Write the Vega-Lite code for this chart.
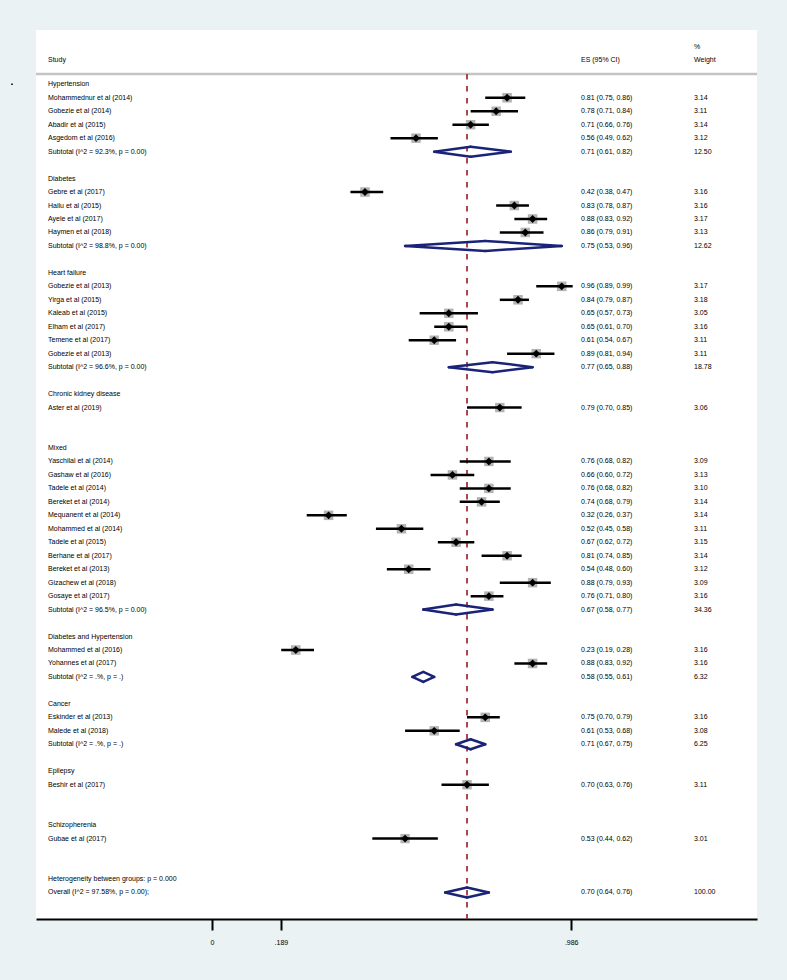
{
  "$schema": "https://vega.github.io/schema/vega-lite/v6.json",
  "width": 721,
  "height": 889,
  "autosize": "none",
  "padding": {"left": 36, "top": 30, "right": 30, "bottom": 61},
  "background": "#eaf2f3",
  "config": {
    "view": {"fill": "white", "stroke": null},
    "font": "Liberation Sans",
    "text": {"font": "Liberation Sans", "fontSize": 7, "color": "black", "baseline": "middle", "align": "left"},
    "axisX": {"grid": false, "domainColor": "black", "domainWidth": 2, "tickColor": "black", "tickWidth": 2, "tickSize": 11, "labelFontSize": 7, "labelColor": "black", "labelPadding": 8, "labelFont": "Liberation Sans", "labelFlush": false, "labelOverlap": false}
  },
  "datasets": {
    "rows": [
      {"row": 0, "label": "Hypertension", "type": "group"},
      {"row": 1, "label": "Mohammednur et al (2014)", "type": "study", "es": 0.81, "lo": 0.75, "hi": 0.86, "w": 3.14, "estext": "0.81 (0.75, 0.86)", "wtext": "3.14"},
      {"row": 2, "label": "Gobezie et al (2014)", "type": "study", "es": 0.78, "lo": 0.71, "hi": 0.84, "w": 3.11, "estext": "0.78 (0.71, 0.84)", "wtext": "3.11"},
      {"row": 3, "label": "Abadir et al (2015)", "type": "study", "es": 0.71, "lo": 0.66, "hi": 0.76, "w": 3.14, "estext": "0.71 (0.66, 0.76)", "wtext": "3.14"},
      {"row": 4, "label": "Asgedom et al  (2016)", "type": "study", "es": 0.56, "lo": 0.49, "hi": 0.62, "w": 3.12, "estext": "0.56 (0.49, 0.62)", "wtext": "3.12"},
      {"row": 5, "label": "Subtotal  (I^2 = 92.3%, p = 0.00)", "type": "subtotal", "es": 0.71, "lo": 0.61, "hi": 0.82, "w": 12.5, "estext": "0.71 (0.61, 0.82)", "wtext": "12.50"},
      {"row": 7, "label": "Diabetes", "type": "group"},
      {"row": 8, "label": "Gebre et al (2017)", "type": "study", "es": 0.42, "lo": 0.38, "hi": 0.47, "w": 3.16, "estext": "0.42 (0.38, 0.47)", "wtext": "3.16"},
      {"row": 9, "label": "Hailu et al (2015)", "type": "study", "es": 0.83, "lo": 0.78, "hi": 0.87, "w": 3.16, "estext": "0.83 (0.78, 0.87)", "wtext": "3.16"},
      {"row": 10, "label": "Ayele et al (2017)", "type": "study", "es": 0.88, "lo": 0.83, "hi": 0.92, "w": 3.17, "estext": "0.88 (0.83, 0.92)", "wtext": "3.17"},
      {"row": 11, "label": "Haymen et al (2018)", "type": "study", "es": 0.86, "lo": 0.79, "hi": 0.91, "w": 3.13, "estext": "0.86 (0.79, 0.91)", "wtext": "3.13"},
      {"row": 12, "label": "Subtotal  (I^2 = 98.8%, p = 0.00)", "type": "subtotal", "es": 0.75, "lo": 0.53, "hi": 0.96, "w": 12.62, "estext": "0.75 (0.53, 0.96)", "wtext": "12.62"},
      {"row": 14, "label": "Heart failure", "type": "group"},
      {"row": 15, "label": "Gobezie et al (2013)", "type": "study", "es": 0.96, "lo": 0.89, "hi": 0.99, "w": 3.17, "estext": "0.96 (0.89, 0.99)", "wtext": "3.17"},
      {"row": 16, "label": "Yirga et al (2015)", "type": "study", "es": 0.84, "lo": 0.79, "hi": 0.87, "w": 3.18, "estext": "0.84 (0.79, 0.87)", "wtext": "3.18"},
      {"row": 17, "label": "Kaleab et al (2015)", "type": "study", "es": 0.65, "lo": 0.57, "hi": 0.73, "w": 3.05, "estext": "0.65 (0.57, 0.73)", "wtext": "3.05"},
      {"row": 18, "label": "Elham et al (2017)", "type": "study", "es": 0.65, "lo": 0.61, "hi": 0.70, "w": 3.16, "estext": "0.65 (0.61, 0.70)", "wtext": "3.16"},
      {"row": 19, "label": "Temene et al (2017)", "type": "study", "es": 0.61, "lo": 0.54, "hi": 0.67, "w": 3.11, "estext": "0.61 (0.54, 0.67)", "wtext": "3.11"},
      {"row": 20, "label": "Gobezie et al (2013)", "type": "study", "es": 0.89, "lo": 0.81, "hi": 0.94, "w": 3.11, "estext": "0.89 (0.81, 0.94)", "wtext": "3.11"},
      {"row": 21, "label": "Subtotal  (I^2 = 96.6%, p = 0.00)", "type": "subtotal", "es": 0.77, "lo": 0.65, "hi": 0.88, "w": 18.78, "estext": "0.77 (0.65, 0.88)", "wtext": "18.78"},
      {"row": 23, "label": "Chronic kidney disease", "type": "group"},
      {"row": 24, "label": "Aster et al (2019)", "type": "study", "es": 0.79, "lo": 0.70, "hi": 0.85, "w": 3.06, "estext": "0.79 (0.70, 0.85)", "wtext": "3.06"},
      {"row": 27, "label": "Mixed", "type": "group"},
      {"row": 28, "label": "Yaschilal et al (2014)", "type": "study", "es": 0.76, "lo": 0.68, "hi": 0.82, "w": 3.09, "estext": "0.76 (0.68, 0.82)", "wtext": "3.09"},
      {"row": 29, "label": "Gashaw et al (2016)", "type": "study", "es": 0.66, "lo": 0.60, "hi": 0.72, "w": 3.13, "estext": "0.66 (0.60, 0.72)", "wtext": "3.13"},
      {"row": 30, "label": "Tadele et al (2014)", "type": "study", "es": 0.76, "lo": 0.68, "hi": 0.82, "w": 3.10, "estext": "0.76 (0.68, 0.82)", "wtext": "3.10"},
      {"row": 31, "label": "Bereket et al (2014)", "type": "study", "es": 0.74, "lo": 0.68, "hi": 0.79, "w": 3.14, "estext": "0.74 (0.68, 0.79)", "wtext": "3.14"},
      {"row": 32, "label": "Mequanent et al (2014)", "type": "study", "es": 0.32, "lo": 0.26, "hi": 0.37, "w": 3.14, "estext": "0.32 (0.26, 0.37)", "wtext": "3.14"},
      {"row": 33, "label": "Mohammed et al (2014)", "type": "study", "es": 0.52, "lo": 0.45, "hi": 0.58, "w": 3.11, "estext": "0.52 (0.45, 0.58)", "wtext": "3.11"},
      {"row": 34, "label": "Tadele et al (2015)", "type": "study", "es": 0.67, "lo": 0.62, "hi": 0.72, "w": 3.15, "estext": "0.67 (0.62, 0.72)", "wtext": "3.15"},
      {"row": 35, "label": "Berhane et al (2017)", "type": "study", "es": 0.81, "lo": 0.74, "hi": 0.85, "w": 3.14, "estext": "0.81 (0.74, 0.85)", "wtext": "3.14"},
      {"row": 36, "label": "Bereket et al (2013)", "type": "study", "es": 0.54, "lo": 0.48, "hi": 0.60, "w": 3.12, "estext": "0.54 (0.48, 0.60)", "wtext": "3.12"},
      {"row": 37, "label": "Gizachew et al (2018)", "type": "study", "es": 0.88, "lo": 0.79, "hi": 0.93, "w": 3.09, "estext": "0.88 (0.79, 0.93)", "wtext": "3.09"},
      {"row": 38, "label": "Gosaye et al (2017)", "type": "study", "es": 0.76, "lo": 0.71, "hi": 0.80, "w": 3.16, "estext": "0.76 (0.71, 0.80)", "wtext": "3.16"},
      {"row": 39, "label": "Subtotal  (I^2 = 96.5%, p = 0.00)", "type": "subtotal", "es": 0.67, "lo": 0.58, "hi": 0.77, "w": 34.36, "estext": "0.67 (0.58, 0.77)", "wtext": "34.36"},
      {"row": 41, "label": "Diabetes and  Hypertension", "type": "group"},
      {"row": 42, "label": "Mohammed et al (2016)", "type": "study", "es": 0.23, "lo": 0.19, "hi": 0.28, "w": 3.16, "estext": "0.23 (0.19, 0.28)", "wtext": "3.16"},
      {"row": 43, "label": "Yohannes et al (2017)", "type": "study", "es": 0.88, "lo": 0.83, "hi": 0.92, "w": 3.16, "estext": "0.88 (0.83, 0.92)", "wtext": "3.16"},
      {"row": 44, "label": "Subtotal  (I^2 = .%, p = .)", "type": "subtotal", "es": 0.58, "lo": 0.55, "hi": 0.61, "w": 6.32, "estext": "0.58 (0.55, 0.61)", "wtext": "6.32"},
      {"row": 46, "label": "Cancer", "type": "group"},
      {"row": 47, "label": "Eskinder et al (2013)", "type": "study", "es": 0.75, "lo": 0.70, "hi": 0.79, "w": 3.16, "estext": "0.75 (0.70, 0.79)", "wtext": "3.16"},
      {"row": 48, "label": "Malede et al (2018)", "type": "study", "es": 0.61, "lo": 0.53, "hi": 0.68, "w": 3.08, "estext": "0.61 (0.53, 0.68)", "wtext": "3.08"},
      {"row": 49, "label": "Subtotal  (I^2 = .%, p = .)", "type": "subtotal", "es": 0.71, "lo": 0.67, "hi": 0.75, "w": 6.25, "estext": "0.71 (0.67, 0.75)", "wtext": "6.25"},
      {"row": 51, "label": "Epilepsy", "type": "group"},
      {"row": 52, "label": "Beshir et al (2017)", "type": "study", "es": 0.70, "lo": 0.63, "hi": 0.76, "w": 3.11, "estext": "0.70 (0.63, 0.76)", "wtext": "3.11"},
      {"row": 55, "label": "Schizopherenia", "type": "group"},
      {"row": 56, "label": "Gubae et al (2017)", "type": "study", "es": 0.53, "lo": 0.44, "hi": 0.62, "w": 3.01, "estext": "0.53 (0.44, 0.62)", "wtext": "3.01"},
      {"row": 59, "label": "Heterogeneity between groups: p = 0.000", "type": "het"},
      {"row": 60, "label": "Overall  (I^2 = 97.58%, p = 0.00);", "type": "overall", "es": 0.70, "lo": 0.64, "hi": 0.76, "w": 100, "estext": "0.70 (0.64, 0.76)", "wtext": "100.00"}
    ]
  },
  "data": {"name": "rows"},
  "layer": [
    {
      "data": {"values": [{}]},
      "mark": {"type": "rule", "color": "#c4c4c4", "strokeWidth": 2.5},
      "encoding": {
        "x": {"datum": -0.48312, "type": "quantitative", "scale": {"domain": [-0.48312, 1.49602], "nice": false, "zero": false}, "title": null,
          "axis": {"values": [0, 0.189, 0.986], "labelExpr": "datum.value === 0 ? '0' : slice(format(datum.value, '.3f'), 1)", "title": null}},
        "x2": {"datum": 1.49602},
        "y": {"datum": -0.77, "type": "quantitative", "scale": {"domain": [-4.031, 61.97], "nice": false, "zero": false, "reverse": true}, "axis": null}
      }
    },
    {
      "transform": [{"filter": "datum.type === 'overall'"}],
      "mark": {"type": "rule", "color": "#a3343f", "strokeWidth": 1.8, "strokeDash": [5.5, 6.5]},
      "encoding": {
        "x": {"field": "es", "type": "quantitative", "title": null},
        "y": {"datum": -0.77, "type": "quantitative", "axis": null},
        "y2": {"datum": 61.97}
      }
    },
    {
      "transform": [{"filter": "datum.type === 'study'"}],
      "mark": {"type": "point", "shape": "square", "filled": true, "color": "#b3b3b3", "opacity": 1},
      "encoding": {
        "x": {"field": "es", "type": "quantitative", "title": null},
        "y": {"field": "row", "type": "quantitative", "axis": null},
        "size": {"field": "w", "type": "quantitative", "scale": {"domain": [0, 3.2], "range": [0, 92]}, "legend": null}
      }
    },
    {
      "transform": [{"filter": "datum.type === 'study'"}],
      "mark": {"type": "rule", "color": "black", "strokeWidth": 2.5},
      "encoding": {
        "x": {"field": "lo", "type": "quantitative", "title": null},
        "x2": {"field": "hi"},
        "y": {"field": "row", "type": "quantitative", "axis": null}
      }
    },
    {
      "transform": [{"filter": "datum.type === 'study'"}],
      "mark": {"type": "point", "shape": "diamond", "filled": true, "color": "black", "size": 62, "opacity": 1},
      "encoding": {
        "x": {"field": "es", "type": "quantitative", "title": null},
        "y": {"field": "row", "type": "quantitative", "axis": null}
      }
    },
    {
      "transform": [{"filter": "datum.type === 'subtotal' || datum.type === 'overall'"}],
      "mark": {"type": "rule", "color": "#1b2378", "strokeWidth": 2.5, "strokeCap": "round", "y2Offset": -5},
      "encoding": {
        "x": {"field": "lo", "type": "quantitative", "title": null},
        "x2": {"field": "es"},
        "y": {"field": "row", "type": "quantitative", "axis": null},
        "y2": {"field": "row"}
      }
    },
    {
      "transform": [{"filter": "datum.type === 'subtotal' || datum.type === 'overall'"}],
      "mark": {"type": "rule", "color": "#1b2378", "strokeWidth": 2.5, "strokeCap": "round", "y2Offset": 5},
      "encoding": {
        "x": {"field": "lo", "type": "quantitative", "title": null},
        "x2": {"field": "es"},
        "y": {"field": "row", "type": "quantitative", "axis": null},
        "y2": {"field": "row"}
      }
    },
    {
      "transform": [{"filter": "datum.type === 'subtotal' || datum.type === 'overall'"}],
      "mark": {"type": "rule", "color": "#1b2378", "strokeWidth": 2.5, "strokeCap": "round", "yOffset": -5},
      "encoding": {
        "x": {"field": "es", "type": "quantitative", "title": null},
        "x2": {"field": "hi"},
        "y": {"field": "row", "type": "quantitative", "axis": null},
        "y2": {"field": "row"}
      }
    },
    {
      "transform": [{"filter": "datum.type === 'subtotal' || datum.type === 'overall'"}],
      "mark": {"type": "rule", "color": "#1b2378", "strokeWidth": 2.5, "strokeCap": "round", "yOffset": 5},
      "encoding": {
        "x": {"field": "es", "type": "quantitative", "title": null},
        "x2": {"field": "hi"},
        "y": {"field": "row", "type": "quantitative", "axis": null},
        "y2": {"field": "row"}
      }
    },
    {
      "mark": {"type": "text"},
      "encoding": {
        "x": {"datum": -0.4502, "type": "quantitative", "title": null},
        "y": {"field": "row", "type": "quantitative", "axis": null},
        "text": {"field": "label"}
      }
    },
    {
      "transform": [{"filter": "isValid(datum.estext)"}],
      "mark": {"type": "text"},
      "encoding": {
        "x": {"datum": 1.0129, "type": "quantitative", "title": null},
        "y": {"field": "row", "type": "quantitative", "axis": null},
        "text": {"field": "estext"}
      }
    },
    {
      "transform": [{"filter": "isValid(datum.wtext)"}],
      "mark": {"type": "text"},
      "encoding": {
        "x": {"datum": 1.3231, "type": "quantitative", "title": null},
        "y": {"field": "row", "type": "quantitative", "axis": null},
        "text": {"field": "wtext"}
      }
    },
    {
      "data": {"values": [{}]},
      "mark": {"type": "text", "text": "Study"},
      "encoding": {
        "x": {"datum": -0.4502, "type": "quantitative", "title": null},
        "y": {"datum": -1.8, "type": "quantitative", "axis": null}
      }
    },
    {
      "data": {"values": [{}]},
      "mark": {"type": "text", "text": "ES (95% CI)"},
      "encoding": {
        "x": {"datum": 1.0129, "type": "quantitative", "title": null},
        "y": {"datum": -1.8, "type": "quantitative", "axis": null}
      }
    },
    {
      "data": {"values": [{}]},
      "mark": {"type": "text", "text": "Weight"},
      "encoding": {
        "x": {"datum": 1.3231, "type": "quantitative", "title": null},
        "y": {"datum": -1.8, "type": "quantitative", "axis": null}
      }
    },
    {
      "data": {"values": [{}]},
      "mark": {"type": "text", "text": "%"},
      "encoding": {
        "x": {"datum": 1.3231, "type": "quantitative", "title": null},
        "y": {"datum": -2.75, "type": "quantitative", "axis": null}
      }
    },
    {
      "data": {"values": [{}]},
      "mark": {"type": "point", "shape": "square", "filled": true, "color": "black", "size": 2.5, "opacity": 1},
      "encoding": {
        "x": {"datum": -0.549, "type": "quantitative", "title": null},
        "y": {"datum": 0, "type": "quantitative", "axis": null}
      }
    }
  ]
}
